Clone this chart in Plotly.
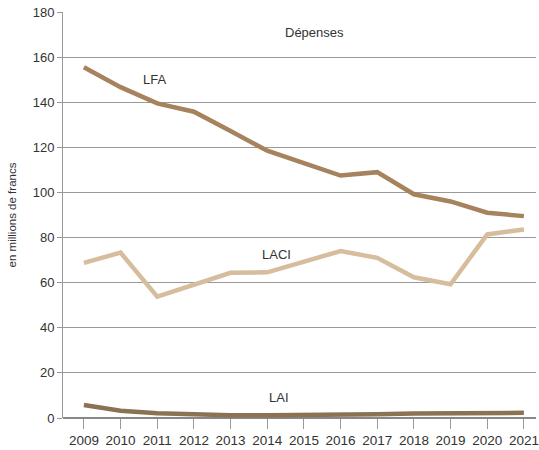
import plotly.graph_objects as go

years = list(range(2009, 2022))
lfa = [155.5, 146.7, 139.5, 135.8, 127.2, 118.5, 113.0, 107.5, 109.0, 99.2, 96.0, 91.0, 89.5]
laci = [68.8, 73.3, 53.8, 59.0, 64.4, 64.6, 69.3, 74.0, 71.0, 62.4, 59.3, 81.4, 83.6]
lai = [5.8, 3.2, 2.1, 1.5, 1.2, 1.2, 1.2, 1.5, 1.7, 2.0, 2.0, 2.2, 2.3]
y_ticks = [0, 20, 40, 60, 80, 100, 120, 140, 160, 180]

c_lfa = "#a6825d"
c_laci = "#d5bd9d"
c_lai = "#8a7252"

fig = go.Figure()
fig.add_trace(go.Scatter(x=years, y=laci, mode="lines", line=dict(color=c_laci, width=4.5), name="LACI"))
fig.add_trace(go.Scatter(x=years, y=lfa, mode="lines", line=dict(color=c_lfa, width=4.5), name="LFA"))
fig.add_trace(go.Scatter(x=years, y=lai, mode="lines", line=dict(color=c_lai, width=4.5), name="LAI"))

font = dict(family="Liberation Sans, Arial, sans-serif", size=12, color="#333333")
ann_font = dict(family="Liberation Sans, Arial, sans-serif", size=13, color="#333333")

fig.update_layout(
    width=539, height=450,
    margin=dict(l=63, r=0, t=12, b=32),
    paper_bgcolor="white", plot_bgcolor="white",
    showlegend=False,
    font=font,
    xaxis=dict(
        range=[2008.43, 2021.33], tickmode="array", tickvals=years,
        ticktext=[str(y) for y in years],
        showgrid=False, zeroline=False,
        ticks="outside", ticklen=10, tickcolor="#999999", tickwidth=1,
        showline=False, ticklabeloverflow="allow",
        tickfont=dict(size=13.5, color="#333333"),
    ),
    yaxis=dict(
        range=[0, 180], tickmode="array", tickvals=y_ticks,
        showgrid=True, gridcolor="#999999", gridwidth=1,
        zeroline=True, zerolinecolor="#888888", zerolinewidth=1.5,
        showline=True, linecolor="#999999", linewidth=1,
        ticks="outside", ticklen=5, tickcolor="#999999",
        tickfont=dict(size=13, color="#333333"),
        title=dict(text="en millions de francs", font=dict(size=11.5, color="#333333"), standoff=13),
    ),
    annotations=[
        dict(x=2015.28, y=171, xref="x", yref="y", text="Dépenses", showarrow=False, font=ann_font),
        dict(x=2010.92, y=150, xref="x", yref="y", text="LFA", showarrow=False, font=ann_font),
        dict(x=2014.25, y=72.3, xref="x", yref="y", text="LACI", showarrow=False, font=ann_font),
        dict(x=2014.31, y=8.9, xref="x", yref="y", text="LAI", showarrow=False, font=ann_font),
    ],
)

fig.write_html("out.html", config={"displayModeBar": False},
               post_script="document.body.style.margin='0';document.body.style.padding='0';")
